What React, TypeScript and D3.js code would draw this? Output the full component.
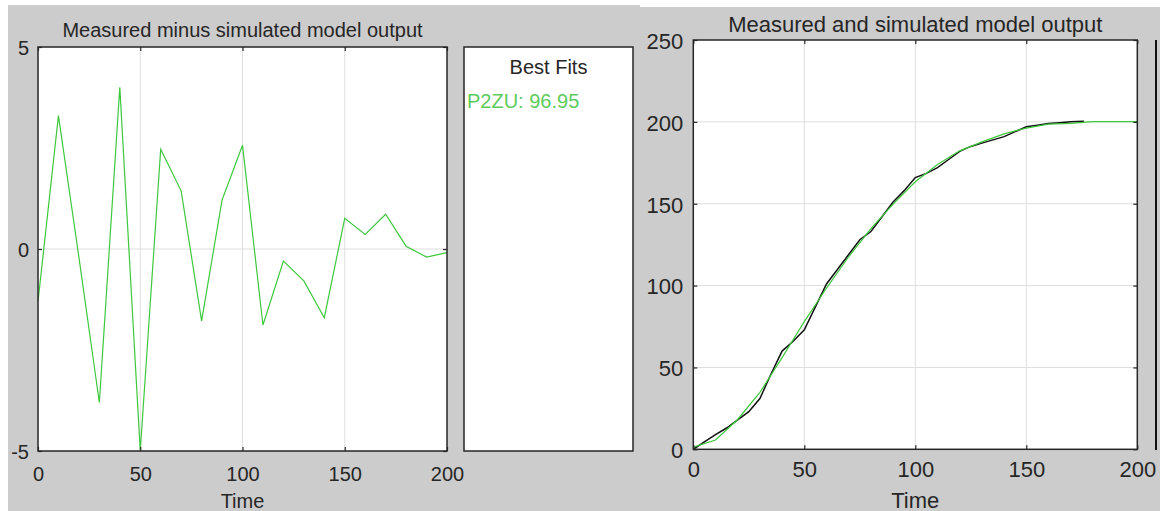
import React, { useEffect, useRef } from 'react';
import * as d3 from 'd3';

// residuals (measured - simulated), sampled every 10 s
const residTime = [0, 10, 20, 30, 40, 50, 60, 70, 80, 90, 100, 110, 120, 130, 140, 150, 160, 170, 180, 190, 200];
const residValues = [-1.3, 3.3, -0.2, -3.8, 4.0, -5.0, 2.47, 1.44, -1.78, 1.21, 2.57, -1.88, -0.3, -0.79, -1.7, 0.76, 0.36, 0.86, 0.07, -0.2, -0.09];

// measured output (black)
const measTime = [0, 5, 10, 15, 20, 25, 30, 35, 40, 45, 50, 55, 60, 65, 70, 75, 80, 85, 90, 95, 100, 105, 110, 115, 120, 125, 130, 135, 140, 145, 150, 155, 160, 165, 170, 176];
const measValues = [0, 4.5, 9, 13, 18, 23, 31, 46, 60, 66, 73, 87, 101, 110, 119, 128, 133, 142, 151, 158, 166, 168.5, 172, 177, 182, 185, 187, 189, 191, 194, 197, 198, 199, 199.5, 200, 200.4];

// simulated model output (green)
const simTime = [0, 10, 20, 30, 40, 50, 60, 70, 80, 90, 100, 110, 120, 130, 140, 150, 160, 170, 180, 190, 200];
const simValues = [1.3, 5.7, 18.2, 34.8, 56, 78, 98.5, 117.6, 134.8, 149.8, 163.4, 173.9, 182.3, 187.8, 192.7, 196.2, 198.6, 199.1, 200.2, 200.2, 200.1];

const xTicks = [0, 50, 100, 150, 200];
const residTicks = [-5, 0, 5];
const outputTicks = [0, 50, 100, 150, 200, 250];

const fitTitle = 'Best Fits';
const fitLabel = 'P2ZU: 96.95';

const GREEN = '#3ec83e';
const INK = '#262626';
const GRID = '#dedede';
const FONT = '"Liberation Sans", Arial, sans-serif';

// plain hyphen for negatives, like the original
const fmt = d => String(d);

function drawPanel(svg, cfg) {
  const x = d3.scaleLinear().domain([0, 200]).range([cfg.left, cfg.right]);
  const y = d3.scaleLinear().domain(cfg.yDomain).range([cfg.bottom, cfg.top]);
  const g = svg.append('g');

  g.append('rect')
    .attr('x', cfg.left).attr('y', cfg.top)
    .attr('width', cfg.right - cfg.left).attr('height', cfg.bottom - cfg.top)
    .attr('fill', '#fff');

  // grid
  g.append('g').selectAll('line').data(xTicks.slice(1, -1)).enter().append('line')
    .attr('x1', d => x(d)).attr('x2', d => x(d))
    .attr('y1', cfg.top).attr('y2', cfg.bottom)
    .attr('stroke', GRID).attr('stroke-width', 1);
  g.append('g').selectAll('line').data(cfg.yTicks.slice(1, -1)).enter().append('line')
    .attr('y1', d => y(d)).attr('y2', d => y(d))
    .attr('x1', cfg.left).attr('x2', cfg.right)
    .attr('stroke', GRID).attr('stroke-width', 1);

  const clipId = 'clip-' + cfg.id;
  g.append('clipPath').attr('id', clipId).append('rect')
    .attr('x', cfg.left).attr('y', cfg.top - 1)
    .attr('width', cfg.right - cfg.left).attr('height', cfg.bottom - cfg.top + 2);

  const line = d3.line().x(d => x(d[0])).y(d => y(d[1]));
  cfg.series.forEach(s => {
    g.append('path')
      .attr('d', line(d3.zip(s.t, s.v)))
      .attr('fill', 'none')
      .attr('stroke', s.color)
      .attr('stroke-width', s.width)
      .attr('clip-path', `url(#${clipId})`);
  });

  // axes, ticks pointing inward
  const axes = [
    [d3.axisBottom(x).tickValues(xTicks).tickFormat(fmt), `translate(0,${cfg.bottom})`],
    [d3.axisTop(x).tickValues(xTicks).tickFormat(() => ''), `translate(0,${cfg.top})`],
    [d3.axisLeft(y).tickValues(cfg.yTicks).tickFormat(fmt), `translate(${cfg.left},0)`],
    [d3.axisRight(y).tickValues(cfg.yTicks).tickFormat(() => ''), `translate(${cfg.right},0)`],
  ];
  axes.forEach(([ax, tr], i) => {
    ax.tickSizeInner(-4).tickSizeOuter(0).tickPadding(i === 2 ? cfg.yPad : 0);
    const a = g.append('g').attr('transform', tr).call(ax);
    a.select('.domain').remove();
    a.selectAll('line').attr('stroke', INK).attr('stroke-width', 1.2);
    a.selectAll('text')
      .attr('font-family', FONT).attr('font-size', cfg.fontSize).attr('fill', INK);
    if (i === 0) a.selectAll('text').attr('y', cfg.xLabelY - cfg.bottom).attr('dy', 0);
    if (i === 2) a.selectAll('text').attr('dy', '0.38em');
  });

  g.append('rect')
    .attr('x', cfg.left).attr('y', cfg.top)
    .attr('width', cfg.right - cfg.left).attr('height', cfg.bottom - cfg.top)
    .attr('fill', 'none').attr('stroke', INK).attr('stroke-width', 1.5);

  const mid = (cfg.left + cfg.right) / 2;
  g.append('text').attr('x', mid).attr('y', cfg.titleY)
    .attr('text-anchor', 'middle').attr('font-family', FONT)
    .attr('font-size', cfg.fontSize).attr('fill', INK).text(cfg.title);
  g.append('text').attr('x', mid).attr('y', cfg.timeY)
    .attr('text-anchor', 'middle').attr('font-family', FONT)
    .attr('font-size', cfg.fontSize).attr('fill', INK).text('Time');
}

export default function App() {
  const ref = useRef(null);

  useEffect(() => {
    const svg = d3.select(ref.current);
    svg.selectAll('*').remove();

    svg.append('rect').attr('width', 1160).attr('height', 511).attr('fill', '#fff');
    svg.append('rect').attr('x', 8).attr('y', 5).attr('width', 632).attr('height', 506).attr('fill', '#cccccc');
    svg.append('rect').attr('x', 640).attr('y', 7).attr('width', 520).attr('height', 504).attr('fill', '#cccccc');

    drawPanel(svg, {
      id: 'resid', left: 38, right: 447, top: 47, bottom: 451,
      yDomain: [-5, 5], yTicks: residTicks, yPad: 9,
      fontSize: 20, titleY: 37, xLabelY: 480.5, timeY: 508,
      title: 'Measured minus simulated model output',
      series: [{ t: residTime, v: residValues, color: GREEN, width: 1.2 }],
    });

    // Best fits box
    const bx = 464, by = 47, bw = 169, bh = 404;
    svg.append('rect').attr('x', bx).attr('y', by).attr('width', bw).attr('height', bh)
      .attr('fill', '#fff').attr('stroke', INK).attr('stroke-width', 1.5);
    svg.append('text').attr('x', bx + bw / 2).attr('y', 74).attr('text-anchor', 'middle')
      .attr('font-family', FONT).attr('font-size', 20).attr('fill', INK).text(fitTitle);
    svg.append('text').attr('x', bx + 3).attr('y', 108)
      .attr('font-family', FONT).attr('font-size', 20).attr('fill', '#5ccc5c').text(fitLabel);

    drawPanel(svg, {
      id: 'out', left: 693.3, right: 1137.3, top: 40, bottom: 449.3,
      yDomain: [0, 250], yTicks: outputTicks, yPad: 10,
      fontSize: 22, titleY: 32, xLabelY: 477.5, timeY: 507.5,
      title: 'Measured and simulated model output',
      series: [
        { t: measTime, v: measValues, color: '#111', width: 1.5 },
        { t: simTime, v: simValues, color: GREEN, width: 1.2 },
      ],
    });

    // edge of the next (cropped) panel
    svg.append('line').attr('x1', 1156).attr('x2', 1156).attr('y1', 40).attr('y2', 450)
      .attr('stroke', '#111').attr('stroke-width', 2);
  }, []);

  return (
    <div style={{ position: 'absolute', left: 0, top: 0 }}>
      <svg ref={ref} width={1160} height={511} style={{ display: 'block' }} />
    </div>
  );
}
